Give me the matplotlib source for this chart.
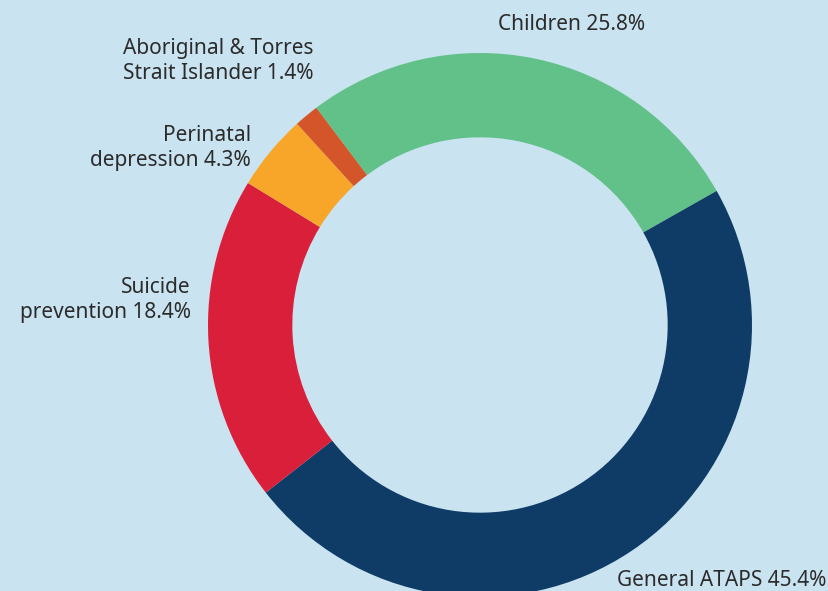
import matplotlib.pyplot as plt

# Data
categories = ['Children', 'General ATAPS', 'Suicide prevention',
              'Perinatal depression', 'Aboriginal & Torres Strait Islander']
shares = [25.8, 45.4, 18.4, 4.3, 1.4]
colors = ['#62C189', '#0F3C66', '#DA1F3A', '#F8A629', '#D5552B']

bg = '#CAE3F0'
W, H = 829, 591
fig = plt.figure(figsize=(W / 100, H / 100), dpi=100, facecolor=bg)

# donut placed in pixel coords
cx, cy, r = 480, 325, 272
ax = fig.add_axes([(cx - r) / W, (H - cy - r) / H, 2 * r / W, 2 * r / H])
ax.set_facecolor(bg)
ax.pie(shares, colors=colors, startangle=127, counterclock=False, radius=1,
       wedgeprops=dict(width=0.31, linewidth=0))
ax.set_xlim(-1, 1)
ax.set_ylim(-1, 1)
ax.axis('off')

txt = dict(fontsize=15, color='#2b2b2b', family=['Noto Sans', 'DejaVu Sans'],
           linespacing=1.28)


def label(x, y, s, ha):
    fig.text(x / W, 1 - y / H, s, ha=ha, va='center', **txt)


label(498, 24, f'Children {shares[0]}%', 'left')
label(826, 580, f'General ATAPS {shares[1]}%', 'right')
label(191, 300, f'Suicide\nprevention {shares[2]}%', 'right')
label(251, 148, f'Perinatal\ndepression {shares[3]}%', 'right')
label(314, 61, f'Aboriginal & Torres\nStrait Islander {shares[4]}%', 'right')

plt.savefig('out.png', dpi=100, facecolor=bg)
